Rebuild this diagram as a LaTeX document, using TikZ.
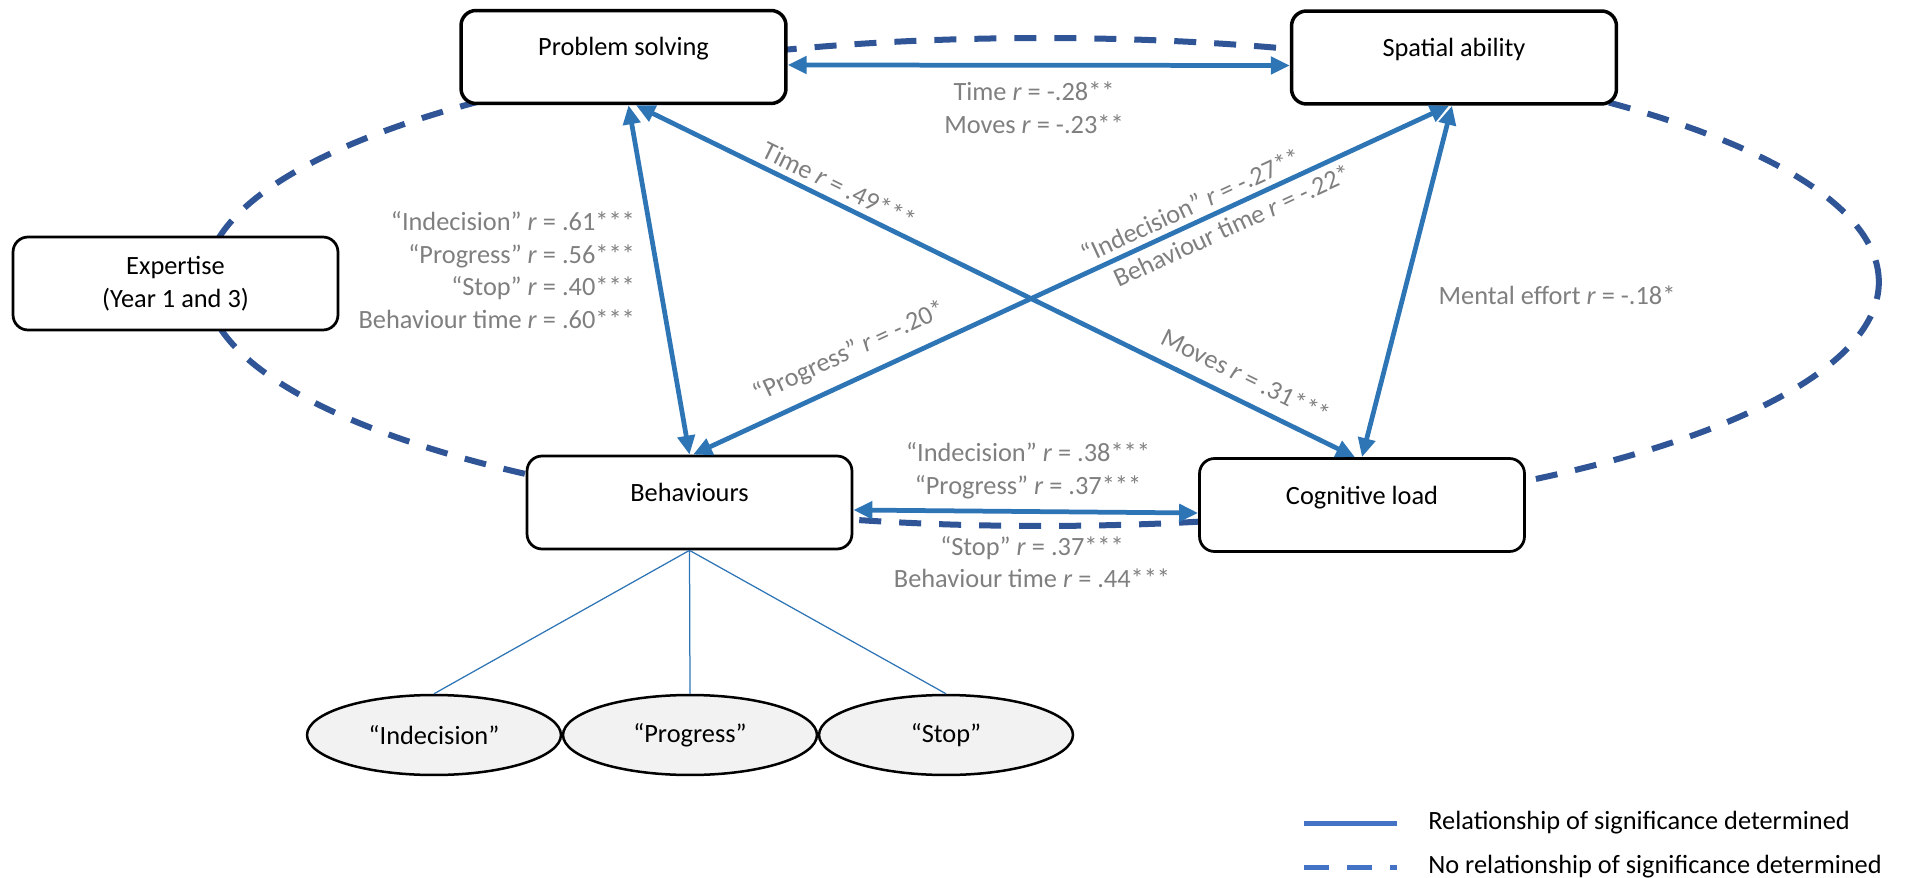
\documentclass[tikz,border=0pt]{standalone}
\usepackage{fontspec}
\setmainfont{Carlito}
\usepackage{tikz}
\usetikzlibrary{arrows.meta}
\usetikzlibrary{calc}
\usepackage{xcolor}
\usetikzlibrary{arrows.meta,shapes.geometric}

\definecolor{linkblue}{HTML}{2E75B6}
\definecolor{nolinkblue}{HTML}{2F5597}
\definecolor{keyblue}{HTML}{4472C4}
\definecolor{rgray}{HTML}{7F7F7F}
\definecolor{catfill}{HTML}{F2F2F2}

\begin{document}
\begin{tikzpicture}[x=0.02cm,y=-0.02cm,>={Triangle[length=0.38cm,width=0.34cm]},
		font=\fontsize{15pt}{18.6pt}\selectfont,
		varbox/.style={draw=black, line width=0.055cm, rounded corners=0.3cm, fill=white,
			minimum width=6.5cm, minimum height=1.86cm, inner sep=0pt, align=center},
		upbox/.style={varbox, text height=0.36cm, text depth=0.4cm},
		topbox/.style={upbox, line width=0.07cm},
		catell/.style={ellipse, draw=black, line width=0.05cm, fill=catfill,
			minimum width=5.08cm, minimum height=1.6cm, inner sep=0pt},
		linkarr/.style={<->, draw=linkblue, line width=0.095cm},
		catline/.style={draw=linkblue, line width=0.025cm},
		nolink/.style={draw=nolinkblue, line width=0.12cm, dash pattern=on 0.44cm off 0.36cm},
		lbl/.style={text=rgray},
		keytext/.style={inner xsep=0pt, anchor=west},
		]
		
		\useasboundingbox (0,0) rectangle (1907,878);
		
		%--- dashed ring: no relationship of significance ---
		\draw[nolink] (1042,282) ellipse [x radius=16.74cm, y radius=4.88cm];
		
		%--- variables ---
		\node[topbox] (ps) at (623.5,57) {Problem solving};
		\node[topbox] (sa) at (1454,57.5) {Spatial ability};
		\node[varbox] (ex) at (175.5,283.5) {Expertise\\(Year 1 and 3)};
		\node[upbox] (beh) at (689.5,502.5) {Behaviours};
		\node[upbox] (cog) at (1362,505) {Cognitive load};
		
		% behaviour categories
		\node[catell] (indec) at (434,735) {“Indecision”};
		\node[catell] (progr) at (690,735) {“Progress”};
		\node[catell] (stopb) at (946,735) {“Stop”};
		\draw[catline] (beh.south) -- (indec.north);
		\draw[catline] (beh.south) -- (progr.north);
		\draw[catline] (beh.south) -- (stopb.north);
		
		%--- significant relationships ---
		\draw[linkarr] ([yshift=-0.16cm]ps.east) -- ([yshift=-0.16cm]sa.west);
		\draw[linkarr] ([xshift=0.1cm]ps.south) -- (beh.north);
		\draw[linkarr] ([xshift=0.25cm]ps.south) -- ([xshift=-0.14cm]cog.north)
			node[lbl, sloped, above, pos=0.272] (lblTime) {Time \textit{r} = .49***}
			node[lbl, sloped, above=0.15cm, pos=0.833] (lblMoves) {Moves \textit{r} = .31***};
		\draw[linkarr] ([xshift=0.07cm]beh.north) -- ([xshift=-0.1cm]sa.south)
			node[lbl, sloped, above=0.15cm, pos=0.222] (lblProg) {“Progress” \textit{r} = -.20*}
			node[lbl, sloped, above, pos=0.668] (lblIndec) {“Indecision” \textit{r} = -.27**}
			node[lbl, sloped, below, pos=0.703] (lblBtime) {Behaviour time \textit{r} = -.22*};
		\draw[linkarr] ([xshift=-0.04cm]sa.south) -- (cog.north);
		\draw[linkarr] ([yshift=-0.15cm]beh.east) -- ([yshift=-0.16cm]cog.west);
		
		%--- correlations ---
		\node[lbl, align=center] (lblPsSa) at (1034,108) {Time \textit{r} = -.28**\\Moves \textit{r} = -.23**};
		\node[lbl, align=right, anchor=east] (lblPsBeh) at (641,270) {“Indecision” \textit{r} = .61***\\“Progress” \textit{r} = .56***\\“Stop” \textit{r} = .40***\\Behaviour time \textit{r} = .60***};
		\node[lbl] (lblSaCog) at (1557,295) {Mental effort \textit{r} = -.18*};
		\node[lbl, align=center] (lblBehCogA) at (1028,471) {“Indecision” \textit{r} = .38***\\“Progress” \textit{r} = .37***};
		\node[lbl, align=center] (lblBehCogB) at (1032,562) {“Stop” \textit{r} = .37***\\Behaviour time \textit{r} = .44***};
		
		%--- key ---
		\node[keytext] (keysig) at (1428,823) {Relationship of significance determined};
		\node[keytext] (keyno) at (1428,867) {No relationship of significance determined};
		\draw[draw=keyblue, line width=0.1cm] ([xshift=-0.62cm]keysig.west) -- ([xshift=-2.48cm]keysig.west);
		\draw[draw=keyblue, line width=0.1cm, dash pattern=on 0.5cm off 0.36cm] ([xshift=-2.48cm]keyno.west) -- ([xshift=-0.62cm]keyno.west);
		
	\end{tikzpicture}
\end{document}
